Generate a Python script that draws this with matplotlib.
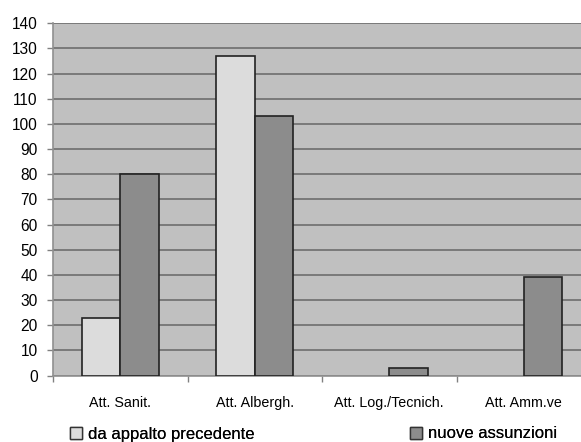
import matplotlib.pyplot as plt
import matplotlib.patches as mpatches
import numpy as np

# data
categories = ["Att. Sanit.", "Att. Albergh.", "Att. Log./Tecnich.", "Att. Amm.ve"]
da_appalto = [23, 127, 0, 0]
nuove_assunzioni = [80, 103, 3, 39]
series_names = ["da appalto precedente", "nuove assunzioni"]
y_ticks = list(range(0, 141, 10))

light = "#dcdcdc"
dark = "#8c8c8c"

plt.rcParams['font.family'] = ['Liberation Sans', 'DejaVu Sans']

fig = plt.figure(figsize=(5.81, 4.42), dpi=100)
# plot area runs past the right edge of the picture, as in the reference
ax = fig.add_axes([53 / 581, 1 - 375.5 / 442, 538 / 581, 352.2 / 442])
ax.set_facecolor("#c0c0c0")

x = np.arange(len(categories)) + 0.5
w = 0.286
for vals, off, col in [(da_appalto, -w / 2, light), (nuove_assunzioni, w / 2, dark)]:
    bars = ax.bar(x + off, vals, w, color=col, edgecolor="#222222", linewidth=1.2, zorder=3)
    for b, v in zip(bars, vals):
        if v == 0:
            b.set_linewidth(0)  # empty bars leave no outline

ax.set_xlim(0, len(categories))
ax.set_ylim(0, 140)
ax.set_yticks(y_ticks)
ax.set_yticklabels([str(v) for v in y_ticks], fontsize=11.2)
ax.yaxis.grid(True, color="#7a7a7a", linewidth=1.4, zorder=1)
ax.set_axisbelow(True)

ax.set_xticks(x)
ax.set_xticklabels(categories, fontsize=10.3)
ax.set_xticks(np.arange(len(categories) + 1), minor=True)
ax.tick_params(axis="x", which="major", length=0, pad=15)
ax.tick_params(axis="x", which="minor", length=4, color="#808080", width=1)
ax.tick_params(axis="y", length=4, color="#808080", width=1, pad=7)

for s in ["top", "right"]:
    ax.spines[s].set_visible(False)
ax.spines["left"].set_color("#909090")
ax.spines["bottom"].set_color("#909090")
ax.spines["left"].set_linewidth(1.2)
ax.spines["bottom"].set_linewidth(1.2)

# legend: two entries far apart under the chart
for name, col, xpos in [(series_names[0], light, 70 / 581), (series_names[1], dark, 410 / 581)]:
    h = mpatches.Patch(facecolor=col, edgecolor="#333333", linewidth=1)
    leg = fig.legend(handles=[h], labels=[name], loc="center left",
                     bbox_to_anchor=(xpos, 1 - 434 / 442), frameon=False,
                     fontsize=12, handlelength=0.7, handleheight=0.7,
                     handletextpad=0.4, borderpad=0, borderaxespad=0)
    fig.add_artist(leg)

fig.savefig("out.png", dpi=100)
